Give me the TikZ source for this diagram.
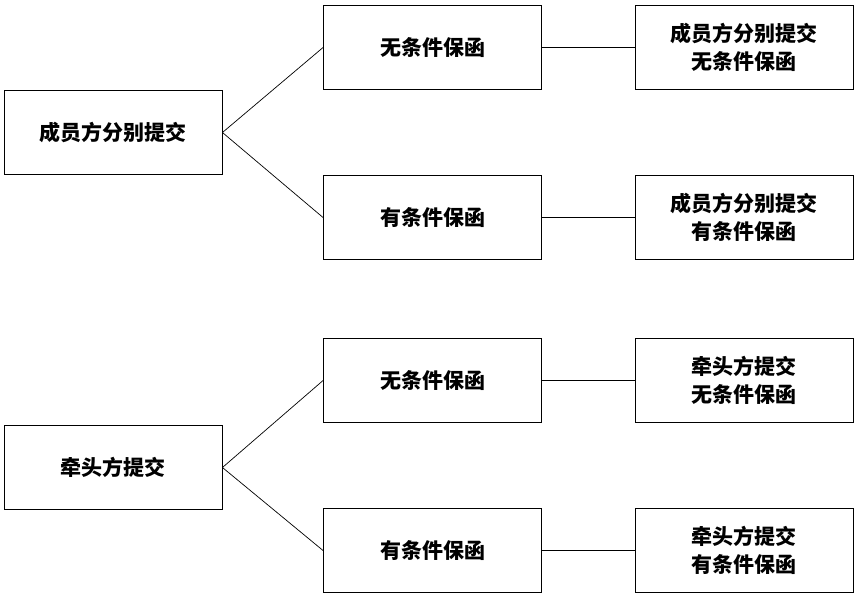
\documentclass[tikz,border=0pt]{standalone}
\usepackage{fontspec}
\newfontfamily\cjk{Noto Sans CJK SC}
\tikzset{
  box/.style={draw, line width=0.9pt, minimum width=218pt, minimum height=84pt,
    align=center, font=\cjk\bfseries\fontsize{21}{28}\selectfont},
  link/.style={line width=0.7pt}
}
\begin{document}
\begin{tikzpicture}[x=1pt, y=-1pt]
    \useasboundingbox (0,0) rectangle (856,598);
    % upper tree
    \node[box] (l1) at (113,132.5) {成员方分别提交};
    \node[box] (m1) at (432.5,47.5) {无条件保函};
    \node[box] (m2) at (432.5,217.5) {有条件保函};
    \node[box] (r1) at (744,47.5) {成员方分别提交\\无条件保函};
    \node[box] (r2) at (744,217.5) {成员方分别提交\\有条件保函};
    % lower tree
    \node[box] (l2) at (113,467.5) {牵头方提交};
    \node[box] (m3) at (432.5,380.5) {无条件保函};
    \node[box] (m4) at (432.5,550.5) {有条件保函};
    \node[box] (r3) at (744,380.5) {牵头方提交\\无条件保函};
    \node[box] (r4) at (744,550.5) {牵头方提交\\有条件保函};
    \foreach \a/\b in {l1/m1, l1/m2, l2/m3, l2/m4} {
        \draw[link] (\a.east) -- (\b.west);
    }
    \foreach \a/\b in {m1/r1, m2/r2, m3/r3, m4/r4} {
        \draw[link] (\a.east) -- (\b.west);
    }
\end{tikzpicture}
\end{document}
